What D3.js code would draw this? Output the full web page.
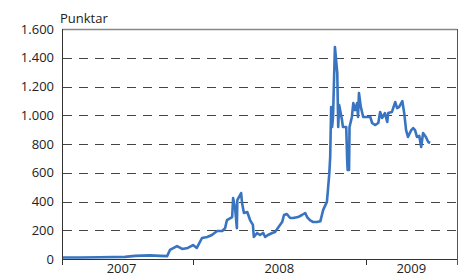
<!DOCTYPE html>
<html><head><meta charset="utf-8">
<script src="https://cdn.jsdelivr.net/npm/d3@7"></script>
<style>
body{margin:0;background:#fff;}
text{font-family:"Open Sans",sans-serif;fill:#222;}
</style></head>
<body><svg id="c" width="462" height="277"></svg>
<script>
const dates = ["2007-03-29","2007-05-06","2007-06-18","2007-08-10","2007-08-31","2007-10-02","2007-10-23","2007-11-07","2007-11-13","2007-11-28","2007-12-09","2007-12-21","2008-01-01","2008-01-09","2008-01-20","2008-01-31","2008-02-10","2008-02-21","2008-03-03","2008-03-09","2008-03-13","2008-03-24","2008-03-26","2008-03-30","2008-04-03","2008-04-04","2008-04-12","2008-04-14","2008-04-18","2008-04-25","2008-05-01","2008-05-07","2008-05-09","2008-05-16","2008-05-22","2008-05-29","2008-06-02","2008-06-08","2008-06-17","2008-06-23","2008-06-29","2008-07-08","2008-07-12","2008-07-18","2008-07-25","2008-07-31","2008-08-11","2008-08-19","2008-08-26","2008-08-30","2008-09-05","2008-09-12","2008-09-20","2008-09-27","2008-10-03","2008-10-07","2008-10-11","2008-10-16","2008-10-18","2008-10-20","2008-10-22","2008-10-24","2008-10-28","2008-11-02","2008-11-04","2008-11-06","2008-11-12","2008-11-14","2008-11-21","2008-11-23","2008-11-24","2008-11-27","2008-11-28","2008-12-03","2008-12-06","2008-12-10","2008-12-14","2008-12-16","2008-12-18","2008-12-22","2008-12-27","2009-01-04","2009-01-11","2009-01-15","2009-01-21","2009-01-28","2009-02-01","2009-02-05","2009-02-11","2009-02-16","2009-02-18","2009-02-26","2009-03-05","2009-03-09","2009-03-13","2009-03-20","2009-03-24","2009-03-28","2009-04-01","2009-04-08","2009-04-12","2009-04-16","2009-04-20","2009-04-25","2009-04-29","2009-05-03","2009-05-09","2009-05-14","2009-05-18"];
const values = [10,10,12,15,22,25,22,20,63,90,70,77,97,77,146,153,167,195,195,215,271,292,424,362,215,410,459,390,320,327,271,237,153,181,167,181,153,167,181,188,215,257,306,313,285,285,292,306,320,292,271,257,257,262,340,370,397,590,710,1057,918,988,1475,1294,918,1071,967,918,918,689,619,619,918,988,1085,1036,1085,988,1155,1057,988,988,988,946,932,946,1023,981,1015,953,1015,1023,1092,1050,1057,1099,1015,897,849,897,911,897,849,856,779,876,849,814,807];
const yTicks = [0,200,400,600,800,1000,1200,1400,1600];
const years = ["2007","2008","2009"];
const domainDates = ["2007-03-29","2009-07-14"];
const yearStarts = ["2008-01-01","2009-01-01"];
const unitLabel = "Punktar";

const parse = d3.timeParse("%Y-%m-%d");
const L = 62, R = 457, T = 29, B = 259;
const svg = d3.select("#c");
const x = d3.scaleTime().domain(domainDates.map(parse)).range([L, R]);
const y = d3.scaleLinear().domain([0, 1600]).range([B, T]);
const loc = d3.formatLocale({decimal:",", thousands:".", grouping:[3], currency:["",""]});
const fmt = loc.format(",");

// grid
svg.append("g").selectAll("line").data(yTicks.filter(v => v > 0 && v < 1600)).join("line")
  .attr("x1", L + 1).attr("x2", R).attr("y1", d => Math.round(y(d)) + 0.5).attr("y2", d => Math.round(y(d)) + 0.5)
  .attr("stroke", "#444").attr("stroke-width", 1).attr("stroke-dasharray", "9,7");

// frame top and right
svg.append("line").attr("x1", L).attr("x2", R).attr("y1", T + 0.5).attr("y2", T + 0.5).attr("stroke", "#888").attr("stroke-width", 1.3);
svg.append("line").attr("x1", R + 0.5).attr("x2", R + 0.5).attr("y1", T).attr("y2", B + 6).attr("stroke", "#555").attr("stroke-width", 1);

// y axis labels
svg.append("g").selectAll("text").data(yTicks).join("text")
  .attr("x", 54).attr("y", d => y(d)).attr("dy", "0.36em").attr("text-anchor", "end")
  .attr("font-size", 13).text(d => fmt(d));

// line
const line = d3.line().x((d, i) => x(parse(dates[i]))).y(d => y(d));
svg.append("path").datum(values).attr("d", line).attr("fill", "none")
  .attr("stroke", "#3874c0").attr("stroke-width", 2.6).attr("stroke-linejoin", "round");

// axes
svg.append("line").attr("x1", L + 0.5).attr("x2", L + 0.5).attr("y1", T).attr("y2", B + 6).attr("stroke", "#333");
svg.append("line").attr("x1", L).attr("x2", R).attr("y1", B + 0.5).attr("y2", B + 0.5).attr("stroke", "#333");
svg.append("g").selectAll("line").data(yearStarts).join("line")
  .attr("x1", d => Math.round(x(parse(d))) + 0.5).attr("x2", d => Math.round(x(parse(d))) + 0.5)
  .attr("y1", B).attr("y2", B + 6).attr("stroke", "#333");

// year labels
const bounds = [parse(domainDates[0]), ...yearStarts.map(parse), parse(domainDates[1])];
svg.append("g").selectAll("text").data(years).join("text")
  .attr("x", (d, i) => (x(bounds[i]) + x(bounds[i + 1])) / 2 - (i === 0 ? 6 : 0)).attr("y", 272.5)
  .attr("text-anchor", "middle").attr("font-size", 13).text(d => d);

svg.append("text").attr("x", 60).attr("y", 23).attr("font-size", 13).text(unitLabel);
</script></body></html>
